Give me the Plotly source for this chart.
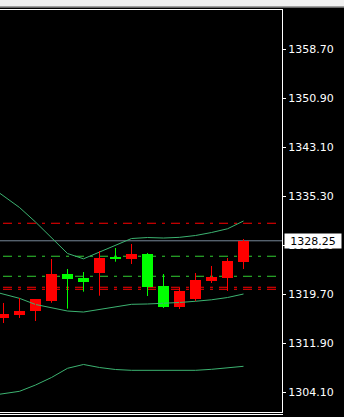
import plotly.graph_objects as go

# ---------------- data ----------------
candle_idx = list(range(1, 17))
opens  = [1316.01, 1316.44, 1317.07, 1318.67, 1322.96, 1322.37, 1323.17, 1325.52,
          1325.35, 1326.15, 1321.05, 1317.71, 1318.98, 1321.85, 1322.33, 1324.87]
highs  = [1318.35, 1319.14, 1318.98, 1325.35, 1323.76, 1323.28, 1326.62, 1327.10,
          1327.74, 1326.31, 1322.96, 1320.73, 1323.12, 1324.24, 1325.51, 1328.53]
lows   = [1315.16, 1315.96, 1315.48, 1318.39, 1317.44, 1320.15, 1319.51, 1324.92,
          1324.56, 1319.46, 1317.55, 1317.39, 1318.67, 1321.53, 1320.26, 1323.76]
closes = [1316.60, 1317.07, 1318.98, 1322.96, 1322.22, 1321.74, 1325.56, 1325.36,
          1326.15, 1320.89, 1317.71, 1320.26, 1322.01, 1322.49, 1325.03, 1328.25]

band_idx = list(range(0, 17))
bb_upper  = [1337.23, 1335.46, 1333.55, 1331.24, 1328.69, 1326.23, 1325.38, 1326.46, 1327.50,
             1328.61, 1328.77, 1328.69, 1328.80, 1329.09, 1329.57, 1330.16, 1331.40]
bb_middle = [1320.42, 1319.73, 1319.09, 1318.11, 1317.55, 1317.07, 1316.91, 1317.31, 1317.71,
             1318.14, 1318.19, 1318.27, 1318.43, 1318.62, 1318.86, 1319.22, 1319.78]
bb_lower  = [1303.54, 1303.86, 1304.29, 1305.29, 1306.49, 1307.95, 1308.56, 1308.08, 1307.76,
             1307.63, 1307.63, 1307.63, 1307.63, 1307.63, 1307.79, 1308.05, 1308.27]

red_levels = [1331.04, 1320.85, 1320.53]
green_levels = [1325.79, 1322.60]

tick_vals = [1304.10, 1311.90, 1319.70, 1327.50, 1335.30, 1343.10, 1350.90, 1358.70]
tick_text = [f"{v:.2f}" for v in tick_vals]

# ---------------- styles ----------------
W, H = 344, 417
UP_COL = "#ff0000"
DN_COL = "#00ff00"
BAND_COL = "#3cb371"
FONT = "DejaVu Sans"
plot_right_px = 282
plot_top_px = 10
plot_bot_px = 412

last_price = closes[-1]

fig = go.Figure()

# Bollinger bands
for band in (bb_upper, bb_middle, bb_lower):
    fig.add_trace(go.Scatter(x=band_idx, y=band, mode="lines",
                             line=dict(color=BAND_COL, width=1), hoverinfo="skip"))

# wicks
for col, cond in ((UP_COL, True), (DN_COL, False)):
    wx, wy = [], []
    for i, o, h, l, c in zip(candle_idx, opens, highs, lows, closes):
        if (c >= o) == cond:
            wx += [i, i, None]
            wy += [l, h, None]
    fig.add_trace(go.Scatter(x=wx, y=wy, mode="lines",
                             line=dict(color=col, width=1), hoverinfo="skip"))

# bodies
body_cols = [UP_COL if c >= o else DN_COL for o, c in zip(opens, closes)]
fig.add_trace(go.Bar(x=candle_idx, y=[c - o for o, c in zip(opens, closes)], base=opens,
                     width=11 / 16, marker=dict(color=body_cols, line=dict(width=0)),
                     hoverinfo="skip"))

shapes = []
dash = "9px,6px,3px,6px"
for lv in red_levels:
    shapes.append(dict(type="line", xref="paper", yref="y", x0=-21 / W, x1=plot_right_px / W,
                       y0=lv, y1=lv, line=dict(color=UP_COL, width=1, dash=dash), layer="below"))
for lv in green_levels:
    shapes.append(dict(type="line", xref="paper", yref="y", x0=-21 / W, x1=plot_right_px / W,
                       y0=lv, y1=lv, line=dict(color="#32cd32", width=1, dash=dash), layer="below"))
# current price line
shapes.append(dict(type="line", xref="paper", yref="y", x0=0, x1=plot_right_px / W,
                   y0=last_price, y1=last_price, line=dict(color="#778899", width=1), layer="below"))

def py(px):
    return 1 - px / H

# window chrome
shapes.append(dict(type="rect", xref="paper", yref="paper", x0=0, x1=1, y0=py(6), y1=1,
                   fillcolor="#f0f0f0", line=dict(width=0), layer="above"))
shapes.append(dict(type="rect", xref="paper", yref="paper", x0=0, x1=1, y0=py(7), y1=py(6),
                   fillcolor="#a0a0a0", line=dict(width=0), layer="above"))
shapes.append(dict(type="rect", xref="paper", yref="paper", x0=0, x1=1, y0=py(8), y1=py(7),
                   fillcolor="#696969", line=dict(width=0), layer="above"))
# frame
fr = dict(color="white", width=1)
shapes.append(dict(type="line", xref="paper", yref="paper", x0=0, x1=(plot_right_px + 1) / W,
                   y0=py(9.5), y1=py(9.5), line=fr, layer="above"))
shapes.append(dict(type="line", xref="paper", yref="paper", x0=(plot_right_px + 0.5) / W,
                   x1=(plot_right_px + 0.5) / W, y0=py(9.5), y1=py(412.5), line=fr, layer="above"))
shapes.append(dict(type="line", xref="paper", yref="paper", x0=0, x1=(plot_right_px + 1) / W,
                   y0=py(412.5), y1=py(412.5), line=fr, layer="above"))
shapes.append(dict(type="line", xref="paper", yref="paper", x0=0, x1=(plot_right_px + 1) / W,
                   y0=py(414.5), y1=py(414.5), line=fr, layer="above"))

# axis ranges derived from measured pixel scale
px_per_unit = 343 / (tick_vals[-1] - tick_vals[0])
ref_px = 392.5
y_top = tick_vals[0] + (ref_px - plot_top_px) / px_per_unit
y_bot = tick_vals[0] - (plot_bot_px - ref_px) / px_per_unit

x0_idx = 1 - 3.5 / 16
x1_idx = 1 + (plot_right_px - 3.5) / 16

fig.update_layout(
    width=W, height=H,
    margin=dict(l=0, r=0, t=0, b=0, pad=0),
    paper_bgcolor="black", plot_bgcolor="black",
    showlegend=False, bargap=0,
    shapes=shapes,
    xaxis=dict(domain=[0, plot_right_px / W], range=[x0_idx, x1_idx], visible=False,
               fixedrange=True),
    yaxis=dict(domain=[1 - plot_bot_px / H, 1 - plot_top_px / H], range=[y_bot, y_top],
               side="right", tickvals=tick_vals, ticktext=tick_text,
               ticks="outside", ticklen=3, tickwidth=1, tickcolor="white",
               showgrid=False, zeroline=False, showline=False, fixedrange=True,
               tickfont=dict(family=FONT, size=11, color="white")),
    annotations=[dict(x=284 / W, xref="paper", xanchor="left", y=last_price, yref="y",
                      yanchor="middle", text=f"{last_price:.2f}", showarrow=False,
                      bgcolor="white", font=dict(family=FONT, size=11, color="black"),
                      width=54, height=12, borderpad=1, align="center")],
)

fig.write_html("out.html", config={"displayModeBar": False})
